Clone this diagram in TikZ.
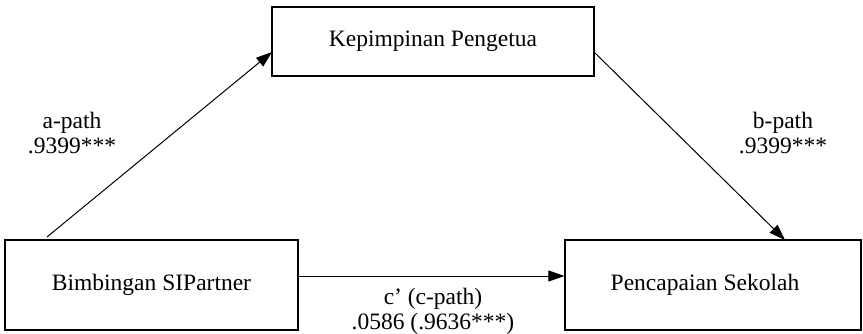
\documentclass[tikz,border=0pt]{standalone}
\usepackage{fontspec}
\setmainfont{Liberation Serif}
\usetikzlibrary{arrows.meta}
\begin{document}
\begin{tikzpicture}[x=1pt,y=1pt,
  box/.style={draw, line width=1.1pt, rectangle, inner sep=0pt, align=center,
    font=\fontsize{23.5}{25}\selectfont},
  lbl/.style={align=center, inner sep=0pt, font=\fontsize{23.5}{25}\selectfont},
  conn/.style={line width=1pt, -{Triangle[length=16pt,width=11pt]}}]
\useasboundingbox (0,0) rectangle (863,333);
\node[box, minimum width=293pt, minimum height=90pt] (left) at (151.5,48) {Bimbingan SIPartner};
\node[box, minimum width=322pt, minimum height=69pt] (top) at (433,291.5) {\raisebox{4pt}{Kepimpinan Pengetua}};
\node[box, minimum width=296pt, minimum height=90pt] (right) at (713,48) {\hspace*{-16pt}Pencapaian Sekolah};
\coordinate (aS) at (47,96);
\coordinate (aE) at (272,281);
\coordinate (bS) at (594,281);
\coordinate (bE) at (785,93);
\draw[conn] (aS) -- (aE);
\draw[conn] (bS) -- (bE);
\draw[conn] (left.east |- 0,57) -- (right.west |- 0,57);
\node[lbl] (alab) at (72,200) {a-path\\.9399***};
\node[lbl] (blab) at (783,200) {b-path\\.9399***};
\node[lbl] (clab) at (433,22) {c’ (c-path)\\.0586 (.9636***)};
\end{tikzpicture}
\end{document}
